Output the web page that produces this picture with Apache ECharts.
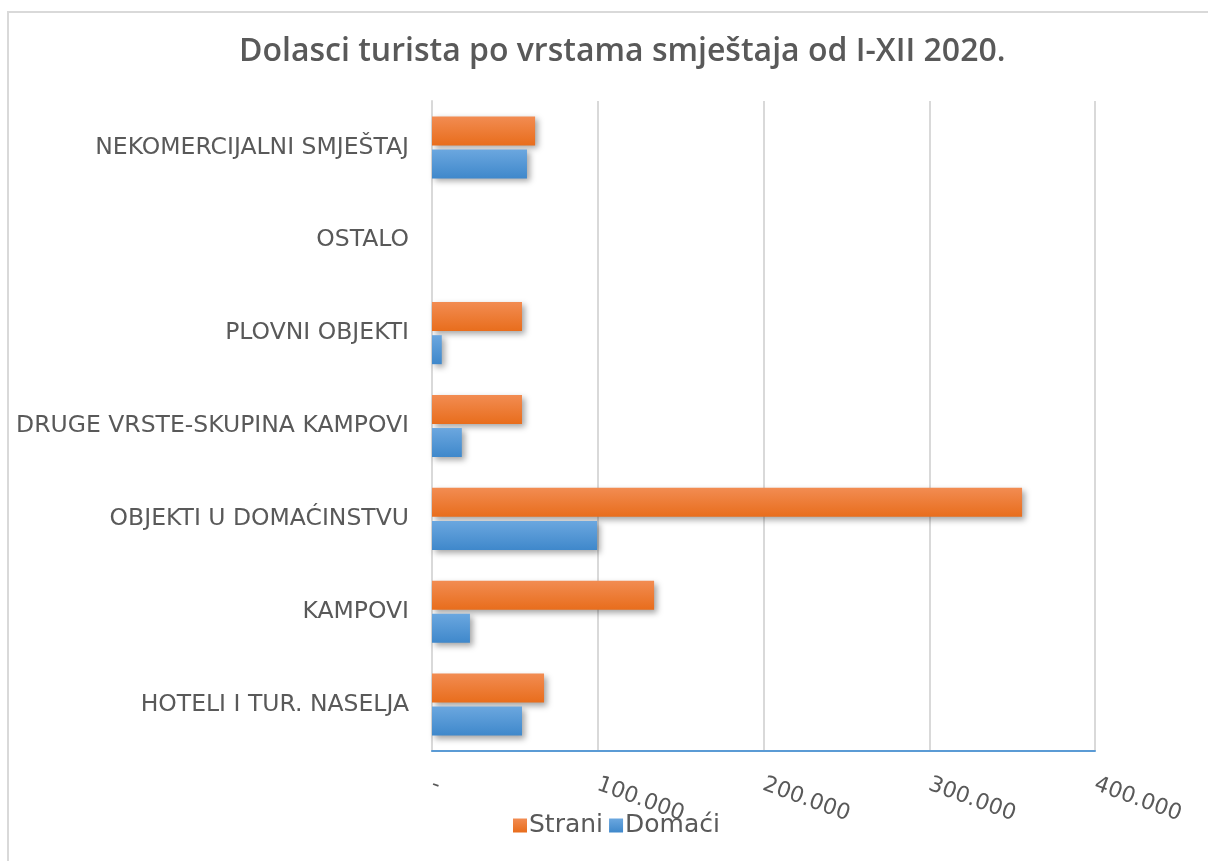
<!DOCTYPE html>
<html>
<head>
<meta charset="utf-8">
<script src="https://cdn.jsdelivr.net/npm/echarts@6/dist/echarts.min.js"></script>
<style>
  html, body { margin: 0; padding: 0; background: #fff; }
  #chart { width: 1208px; height: 861px; }
</style>
</head>
<body>
<div id="chart"></div>
<script>
// kategorije (odozdo prema gore)
var categories = [
  "HOTELI I TUR. NASELJA",
  "KAMPOVI",
  "OBJEKTI U DOMAĆINSTVU",
  "DRUGE VRSTE-SKUPINA KAMPOVI",
  "PLOVNI OBJEKTI",
  "OSTALO",
  "NEKOMERCIJALNI SMJEŠTAJ"
];
var strani = [67600, 134000, 356000, 54300, 54300, 0, 62200];
var domaci = [54300, 22900, 99600, 18000, 5900, 0, 57300];
var xTicks = [0, 100000, 200000, 300000, 400000];

var textColor = "#595959";
var titleFont = "Open Sans";
var labelFont = "DejaVu Sans";

function grad(top, bottom) {
  return new echarts.graphic.LinearGradient(0, 0, 0, 1, [
    { offset: 0, color: top },
    { offset: 1, color: bottom }
  ]);
}

function fmt(v) {
  if (v === 0) return "-";
  return String(v).replace(/\B(?=(\d{3})+(?!\d))/g, ".");
}

var chart = echarts.init(document.getElementById("chart"));
chart.setOption({
  animation: false,
  textStyle: { fontFamily: labelFont },
  title: {
    text: "Dolasci turista po vrstama smještaja od I-XII 2020.",
    left: 234,
    top: 31,
    textStyle: { color: textColor, fontSize: 32, fontWeight: 600, fontFamily: titleFont }
  },
  graphic: [
    {
      type: "rect",
      shape: { x: 8, y: 12, width: 1220, height: 880 },
      style: { fill: "none", stroke: "#d9d9d9", lineWidth: 2 }
    },
    {
      type: "text",
      left: 0,
      top: -18,
      style: { text: "Graf 5.", fill: "#000", font: "22px " + titleFont }
    }
  ],
  legend: {
    data: ["Strani", "Domaći"],
    bottom: 18,
    left: 508,
    itemWidth: 14,
    itemHeight: 14,
    itemGap: 6,
    icon: "rect",
    textStyle: { color: textColor, fontSize: 25, fontFamily: labelFont, padding: [0, 0, 0, -3] }
  },
  grid: { left: 432, right: 113, top: 101, bottom: 110 },
  xAxis: {
    type: "value",
    min: 0,
    max: 400000,
    interval: 100000,
    axisLine: { show: true, lineStyle: { color: "#5b9bd5", width: 2 } },
    axisTick: { show: false },
    splitLine: { show: true, lineStyle: { color: "#d9d9d9", width: 2 } },
    axisLabel: {
      rotate: -20,
      align: "left",
      verticalAlign: "middle",
      margin: 33,
      color: textColor,
      fontSize: 22,
      formatter: function (v) { return xTicks.indexOf(v) >= 0 ? fmt(v) : ""; }
    }
  },
  yAxis: {
    type: "category",
    data: categories,
    axisLine: { show: true, lineStyle: { color: "#d9d9d9", width: 2 } },
    axisTick: { show: false },
    axisLabel: { color: textColor, fontSize: 23.5, margin: 23 }
  },
  series: [
    {
      name: "Strani",
      type: "bar",
      data: strani,
      barWidth: 29,
      barGap: "14%",
      itemStyle: {
        color: grad("#f28c52", "#e86d1c"),
        shadowColor: "rgba(0,0,0,0.35)",
        shadowBlur: 6,
        shadowOffsetX: 3,
        shadowOffsetY: 3
      }
    },
    {
      name: "Domaći",
      type: "bar",
      data: domaci,
      barWidth: 29,
      barGap: "14%",
      itemStyle: {
        color: grad("#6ba7df", "#3f88cb"),
        shadowColor: "rgba(0,0,0,0.35)",
        shadowBlur: 6,
        shadowOffsetX: 3,
        shadowOffsetY: 3
      }
    }
  ]
});
</script>
</body>
</html>
